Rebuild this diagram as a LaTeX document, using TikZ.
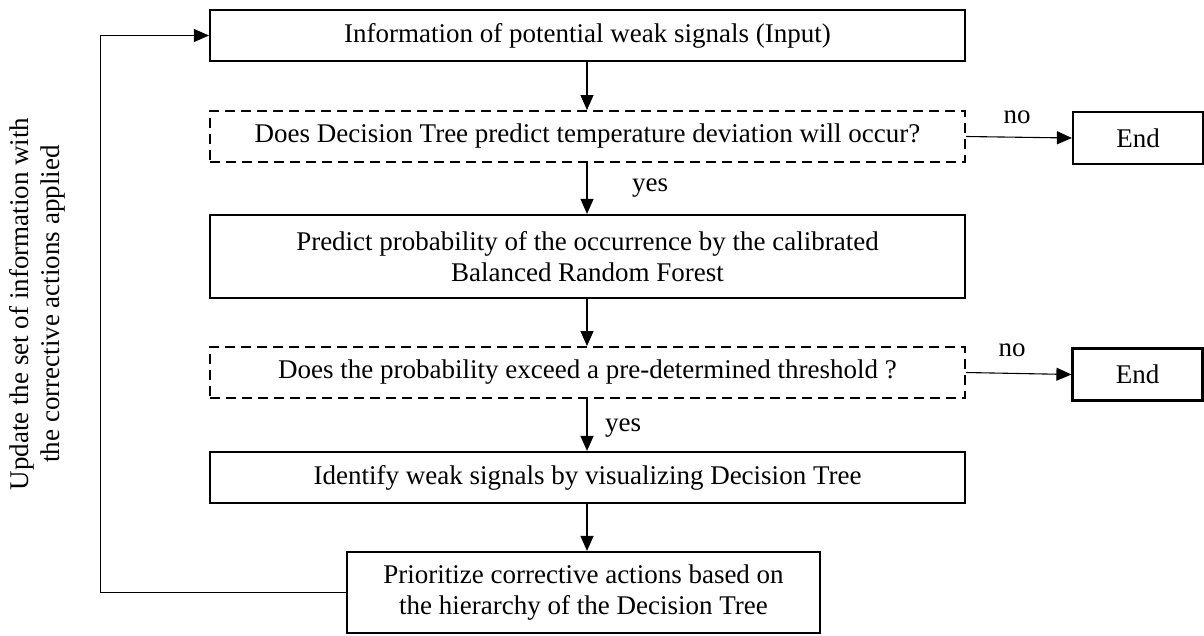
\documentclass[tikz,border=0pt]{standalone}
\usepackage{fontspec}
\setmainfont{Liberation Serif}
\usetikzlibrary{arrows.meta}
\begin{document}
\begin{tikzpicture}[x=1pt,y=-1pt,
  every node/.style={font=\fontsize{27}{31}\selectfont},
  procbox/.style={draw, line width=2.2pt, minimum width=755pt, minimum height=51pt,
    inner sep=0pt, align=center},
  askbox/.style={procbox, line width=2pt, dash pattern=on 10pt off 6pt},
  endbox/.style={draw, line width=2.2pt, minimum width=130pt, minimum height=52pt, inner sep=0pt},
  flow/.style={line width=1.1pt, -{Triangle[length=15pt,width=13pt]}},
  lbl/.style={inner sep=0pt}
]
\useasboundingbox (0,0) rectangle (1204,635);

% main column
\node[procbox] (input) at (587.5,35.5) {Information of potential weak signals (Input)};
\node[askbox] (dtask) at (587.5,136.5) {Does Decision Tree predict temperature deviation will occur?};
\node[procbox, minimum height=83pt] (brf) at (587.5,256.5)
  {Predict probability of the occurrence by the calibrated\\Balanced Random Forest};
\node[askbox] (thresh) at (587.5,372.5) {Does the probability exceed a pre-determined threshold ?};
\node[procbox] (ident) at (587.5,477.5) {Identify weak signals by visualizing Decision Tree};
\node[procbox, minimum width=473pt, minimum height=81pt] (prior) at (583.5,592.5)
  {Prioritize corrective actions based on\\the hierarchy of the Decision Tree};

% terminal boxes
\node[endbox] (endA) at (1138,138) {End};
\node[endbox] (endB) at (1137.5,374.5) {End};

% vertical flow
\draw[flow] (input.south -| 587,0) -- (dtask.north -| 587,0);
\draw[flow] (dtask.south -| 587,0) -- (brf.north -| 587,0);
\draw[flow] (brf.south -| 587,0) -- (thresh.north -| 587,0);
\draw[flow] (thresh.south -| 587,0) -- (ident.north -| 587,0);
\draw[flow] (ident.south -| 587,0) -- (prior.north -| 587,0);

% exits
\draw[flow] (dtask.east) -- (endA.west);
\draw[flow] (thresh.east) -- (endB.west);

% feedback loop
\draw[flow] (prior.west) -- ++(-245,0) |- (input.west);

% labels
\node[lbl] (noA) at (1017,117) {no};
\node[lbl] (noB) at (1012,350) {no};
\node[lbl] (yesA) at (650,188) {yes};
\node[lbl] (yesB) at (623,428) {yes};
\node[rotate=90, align=center, inner sep=0pt] (update) at (37,304)
  {Update the set of information with\\the corrective actions applied};
\end{tikzpicture}
\end{document}
